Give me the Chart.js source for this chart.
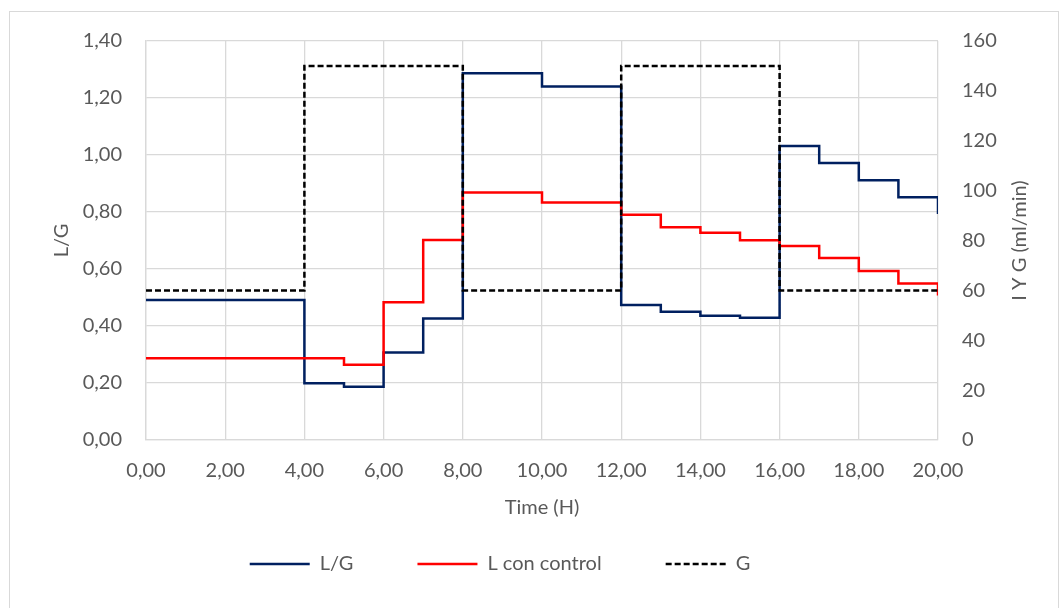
<!DOCTYPE html>
<html lang="es">
<head>
<meta charset="UTF-8">
<title>L/G, L con control y G</title>
<style>
  body { margin: 0; background: #fff; }
  #wrap { position: relative; width: 1059px; height: 608px; }
  #marco {
    position: absolute; left: 9px; top: 11px; width: 1050px; height: 610px;
    box-sizing: border-box; border: 1px solid #d9d9d9; pointer-events: none;
  }
</style>
</head>
<body>
<div id="wrap">
  <canvas id="grafico" width="1059" height="608"></canvas>
  <div id="marco"></div>
</div>
<script src="https://cdn.jsdelivr.net/npm/chart.js@4"></script>
<script>
// tiempos (h) en que cambia cada serie
const tiempoLG = [0, 4, 5, 6, 7, 8, 10, 12, 13, 14, 15, 16, 17, 18, 19, 20];
const valoresLG = [0.491, 0.199, 0.187, 0.307, 0.426, 1.287, 1.240, 0.474, 0.450, 0.436, 0.429, 1.032, 0.972, 0.911, 0.852, 0.793];

const tiempoL = [0, 5, 6, 7, 8, 10, 12, 13, 14, 15, 16, 17, 18, 19, 20];
const valoresL = [32.8, 30.2, 55.2, 80.2, 99.2, 95.2, 90.3, 85.3, 83.1, 80.1, 77.8, 73.0, 67.8, 62.8, 57.9];

const tiempoG = [0, 4, 8, 12, 16, 20];
const valoresG = [60, 150, 60, 150, 60, 60];

const nombres = ['L/G', 'L con control', 'G'];
const tituloX = 'Time (H)';
const tituloIzq = 'L/G';
const tituloDer = 'I Y G (ml/min)';

const GRIS = '#595959';
const fuente = { family: 'Lato', size: 20 };

const puntos = (xs, ys) => xs.map((x, i) => ({ x: x, y: ys[i] }));
const coma = v => Number(v).toFixed(2).replace('.', ',');

// título del eje derecho, girado para leerse de abajo arriba
const tituloDerecho = {
  id: 'tituloDerecho',
  afterDraw(chart) {
    const { ctx, chartArea } = chart;
    ctx.save();
    ctx.translate(chartArea.right + 82, (chartArea.top + chartArea.bottom) / 2);
    ctx.rotate(-Math.PI / 2);
    ctx.font = '20px Lato';
    ctx.fillStyle = GRIS;
    ctx.textAlign = 'center';
    ctx.textBaseline = 'middle';
    ctx.fillText(tituloDer, 0, 0);
    ctx.restore();
  }
};

// la leyenda queda algo a la izquierda del centro
const moverLeyenda = {
  id: 'moverLeyenda',
  afterLayout(chart) {
    chart.legend.left -= 9;
    chart.legend.right -= 9;
  }
};

// muestras de la leyenda con el mismo trazo que cada serie
function etiquetas(chart) {
  const base = Chart.defaults.plugins.legend.labels.generateLabels(chart);
  return base.map(item => {
    const ds = chart.data.datasets[item.datasetIndex];
    item.lineDash = ds.borderDash || [];
    item.lineWidth = ds.borderWidth;
    item.strokeStyle = ds.borderColor;
    item.fillStyle = ds.borderColor;
    return item;
  });
}

new Chart(document.getElementById('grafico'), {
  type: 'line',
  data: {
    datasets: [
      {
        label: nombres[0], data: puntos(tiempoLG, valoresLG), yAxisID: 'y',
        borderColor: '#002060', backgroundColor: '#002060', borderWidth: 2.5, order: 3
      },
      {
        label: nombres[1], data: puntos(tiempoL, valoresL), yAxisID: 'y1',
        borderColor: '#ff0000', backgroundColor: '#ff0000', borderWidth: 2.5, order: 2
      },
      {
        label: nombres[2], data: puntos(tiempoG, valoresG), yAxisID: 'y1',
        borderColor: '#000000', backgroundColor: '#000000', borderWidth: 2.5, borderDash: [6, 3], order: 1
      }
    ]
  },
  options: {
    responsive: false,
    animation: false,
    layout: { padding: { left: 20, right: 61, top: 41, bottom: 24 } },
    datasets: { line: { stepped: 'before', pointRadius: 0, fill: false } },
    plugins: {
      tooltip: { enabled: false },
      legend: {
        position: 'bottom',
        labels: {
          usePointStyle: true, pointStyle: 'line', pointStyleWidth: 60, padding: 64,
          color: GRIS, font: fuente,
          generateLabels: etiquetas,
          sort: (a, b) => a.datasetIndex - b.datasetIndex
        }
      }
    },
    scales: {
      x: {
        type: 'linear', min: 0, max: 20,
        ticks: { stepSize: 2, color: GRIS, font: fuente, padding: 19, callback: v => coma(v) },
        grid: { color: '#d9d9d9', lineWidth: 1.3, drawTicks: false },
        border: { color: '#d9d9d9', width: 1.3 },
        title: { display: true, text: tituloX, color: GRIS, font: fuente, padding: { top: 0, bottom: -30 } },
        afterFit: s => { s.height = 50; }
      },
      y: {
        position: 'left', min: 0, max: 1.4,
        ticks: { stepSize: 0.2, color: GRIS, font: fuente, padding: 24, callback: v => coma(v) },
        grid: { color: '#d9d9d9', lineWidth: 1.3, drawTicks: false },
        border: { color: '#d9d9d9', width: 1.3 },
        title: { display: true, text: tituloIzq, color: GRIS, font: fuente, padding: { top: 30, bottom: 0 } },
        afterFit: s => { s.width = 126; }
      },
      y1: {
        position: 'right', min: 0, max: 160,
        ticks: { stepSize: 20, color: GRIS, font: fuente, padding: 24 },
        grid: { display: false, drawTicks: false },
        border: { display: false },
        afterFit: s => { s.width = 60; }
      }
    }
  },
  plugins: [tituloDerecho, moverLeyenda]
});
</script>
</body>
</html>
